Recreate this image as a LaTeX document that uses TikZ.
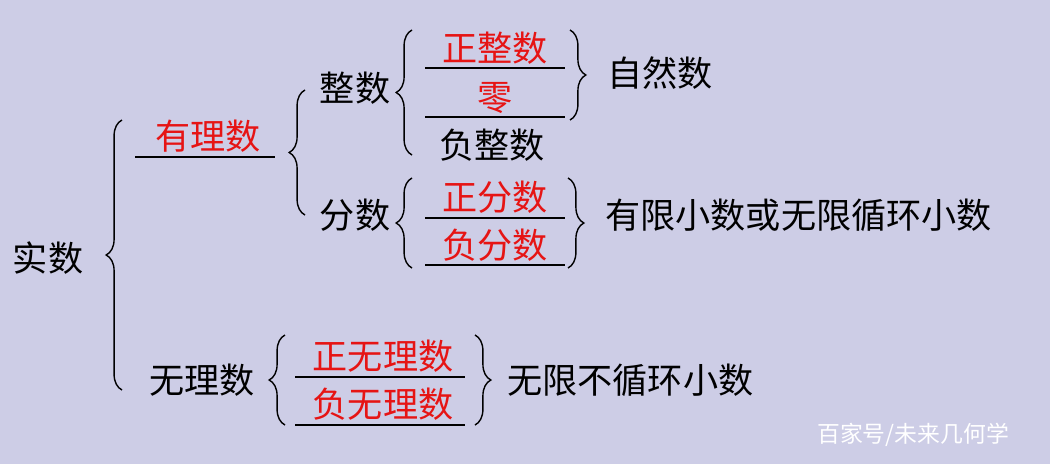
\documentclass[tikz,border=0pt]{standalone}
\usepackage{fontspec}
\setmainfont{Noto Sans CJK SC}
\usetikzlibrary{decorations.pathreplacing}
\definecolor{bgviolet}{RGB}{205,205,230}
\definecolor{redtext}{RGB}{230,20,20}
\begin{document}
\begin{tikzpicture}[x=0.02cm,y=-0.02cm
		, word/.style={font=\fontsize{20}{22}\selectfont, inner sep=0pt}
		, redword/.style={word, text=redtext}
		, kuo/.style={decorate, decoration={brace, amplitude=9pt}, line width=0.8pt}
		, strich/.style={line width=0.9pt}
		]
	\fill[bgviolet] (0,0) rectangle (1050,464);

	\node (shishu) [word] at (48,258) {实数};
	\draw [kuo] (122,390) -- (122,120);

	% rationale Zahlen
	\node (youli) [redword] at (208,136) {有理数};
	\draw [strich] (135,157) -- (275,157);
	\draw [kuo] (305,215) -- (305,90);

	\node (zhengshu) [word] at (355,88) {整数};
	\draw [kuo] (412,155) -- (412,30);
	\node (zzs) [redword] at (495,48) {正整数};
	\draw [strich] (425,68) -- (565,68);
	\node (ling) [redword] at (495,98) {零};
	\draw [strich] (425,117) -- (565,117);
	\node (fzs) [word] at (492,145) {负整数};
	\draw [kuo] (570,30) -- (570,120);
	\node (ziran) [word, anchor=west] at (607,73) {自然数};

	\node (fenshu) [word] at (355,215) {分数};
	\draw [kuo] (412,268) -- (412,178);
	\node (zfs) [redword] at (495,197) {正分数};
	\draw [strich] (425,218) -- (565,218);
	\node (ffs) [redword] at (495,245) {负分数};
	\draw [strich] (425,265) -- (565,265);
	\draw [kuo] (568,178) -- (568,268);
	\node (youxian) [word, anchor=west] at (605,215) {有限小数或无限循环小数};

	% irrationale Zahlen
	\node (wuli) [word] at (202,380) {无理数};
	\draw [kuo] (285,425) -- (285,335);
	\node (zwl) [redword] at (383,356) {正无理数};
	\draw [strich] (295,377) -- (465,377);
	\node (fwl) [redword] at (383,404) {负无理数};
	\draw [strich] (295,425) -- (465,425);
	\draw [kuo] (475,335) -- (475,425);
	\node (wuxian) [word, anchor=west] at (507,380) {无限不循环小数};

	\node (marke) [word, font=\fontsize{13}{15}\selectfont, text=white] at (913,435) {百家号/未来几何学};
\end{tikzpicture}
\end{document}
